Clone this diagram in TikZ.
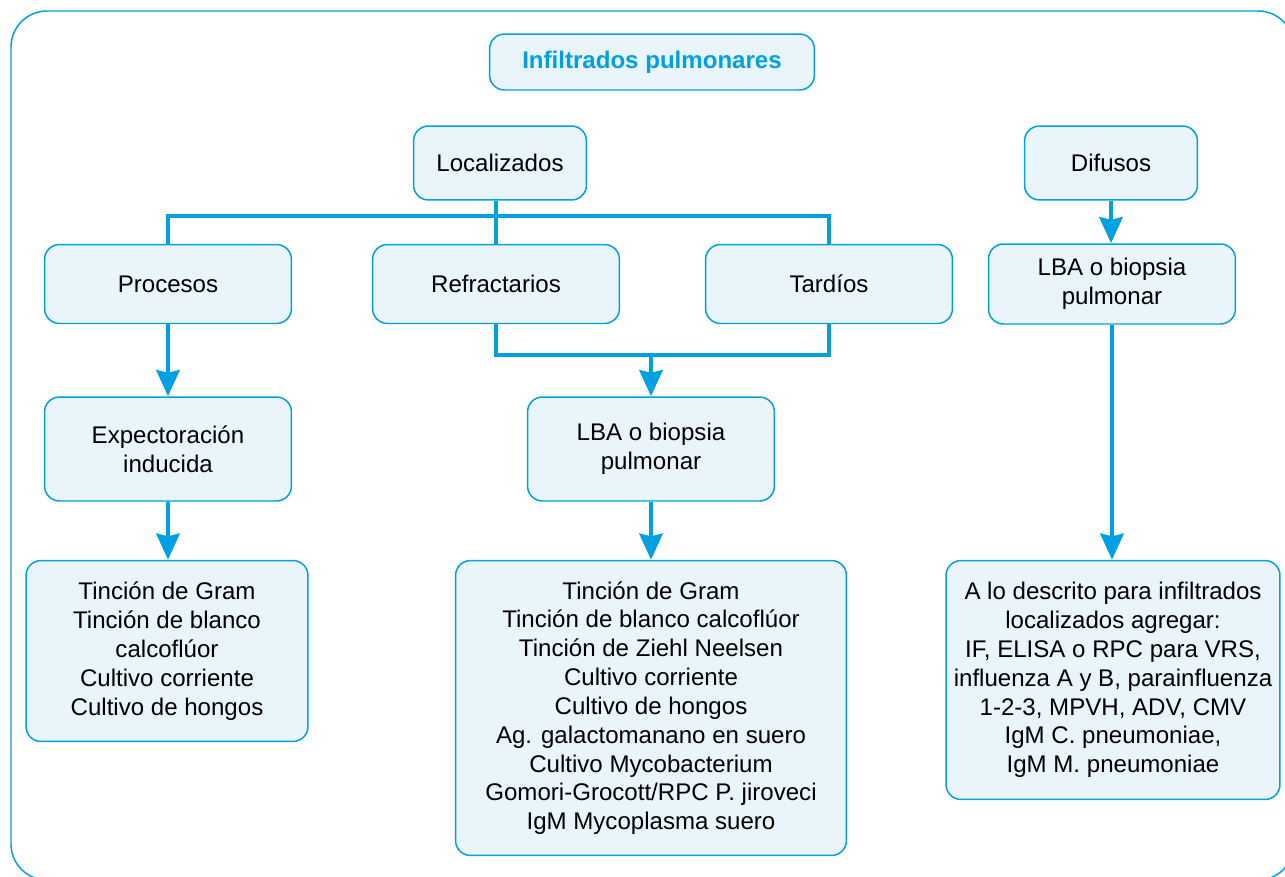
\documentclass[tikz,border=0pt]{standalone}
\usepackage{fontspec}
\setmainfont{Liberation Sans}
\usetikzlibrary{arrows.meta}
\definecolor{azul}{HTML}{00A0E3}
\definecolor{celeste}{HTML}{E9F4FB}

\begin{document}
\begin{tikzpicture}[x=0.02cm, y=-0.02cm,
  caja/.style={draw=azul, fill=celeste, line width=0.85pt, rounded corners=0.3cm,
    align=center, inner sep=0pt, font=\fontsize{13.7pt}{16.4pt}\selectfont},
  linea/.style={draw=azul, line width=2.8pt},
  flecha/.style={linea, -{Stealth[width=0.46cm, length=0.52cm, inset=0.05cm]}}]
  \useasboundingbox (0,0) rectangle (1285,876);
  % marco exterior
  \begin{scope}
    \clip (0,0) rectangle (1285,876);
    \draw[azul, line width=0.85pt, rounded corners=0.72cm] (11,11) rectangle (1294,880);
  \end{scope}
  % titulo
  \node[caja, minimum width=6.5cm, minimum height=1.12cm, text=azul,
    font=\bfseries\fontsize{13.7pt}{16.4pt}\selectfont] (tit) at (652,62) {Infiltrados pulmonares};
  % primer nivel
  \node[caja, minimum width=3.46cm, minimum height=1.48cm] (loc) at (500,163) {Localizados};
  \node[caja, minimum width=3.46cm, minimum height=1.48cm] (dif) at (1111,163) {Difusos};
  % segundo nivel
  \node[caja, minimum width=4.94cm, minimum height=1.58cm] (proc) at (168,284) {Procesos};
  \node[caja, minimum width=4.94cm, minimum height=1.58cm] (ref) at (496,284) {Refractarios};
  \node[caja, minimum width=4.94cm, minimum height=1.58cm] (tard) at (829,284) {Tardíos};
  \node[caja, minimum width=4.94cm, minimum height=1.6cm] (lbad) at (1112,284) {LBA o biopsia\\pulmonar};
  % tercer nivel
  \node[caja, minimum width=4.94cm, minimum height=2.08cm] (expe) at (168,449) {Expectoración\\inducida};
  \node[caja, minimum width=4.94cm, minimum height=2.08cm] (lbal) at (651,449) {LBA o biopsia\\pulmonar};
  % estudios
  \node[caja, minimum width=5.64cm, minimum height=3.62cm] (est1) at (167,651)
    {Tinción de Gram\\Tinción de blanco\\calcoflúor\\Cultivo corriente\\Cultivo de hongos};
  \node[caja, minimum width=7.82cm, minimum height=5.9cm] (est2) at (651,708)
    {Tinción de Gram\\Tinción de blanco calcoflúor\\Tinción de Ziehl Neelsen\\Cultivo corriente\\
     Cultivo de hongos\\Ag. galactomanano en suero\\Cultivo Mycobacterium\\
     Gomori-Grocott/RPC P. jiroveci\\IgM Mycoplasma suero};
  \node[caja, minimum width=6.68cm, minimum height=4.78cm] (est3) at (1113,680)
    {A lo descrito para infiltrados\\localizados agregar:\\IF, ELISA o RPC para VRS,\\
     influenza A y B, parainfluenza\\1-2-3, MPVH, ADV, CMV\\IgM C. pneumoniae,\\IgM M. pneumoniae};
  % conectores
  \coordinate (bus) at (496,216);
  \coordinate (jun) at (651,355);
  \draw[linea] (proc.north) |- (bus) -| (tard.north);
  \draw[linea] (loc.south -| ref.north) -- (ref.north);
  \draw[linea] (ref.south) |- (jun) -| (tard.south);
  \draw[flecha] (jun) -- (lbal.north);
  \draw[flecha] (proc.south) -- (expe.north);
  \draw[flecha] (expe.south) -- (est1.north -| expe.south);
  \draw[flecha] (lbal.south) -- (est2.north);
  \draw[flecha] (dif.south) -- (lbad.north -| dif.south);
  \draw[flecha] (lbad.south) -- (est3.north -| lbad.south);
\end{tikzpicture}
\end{document}
